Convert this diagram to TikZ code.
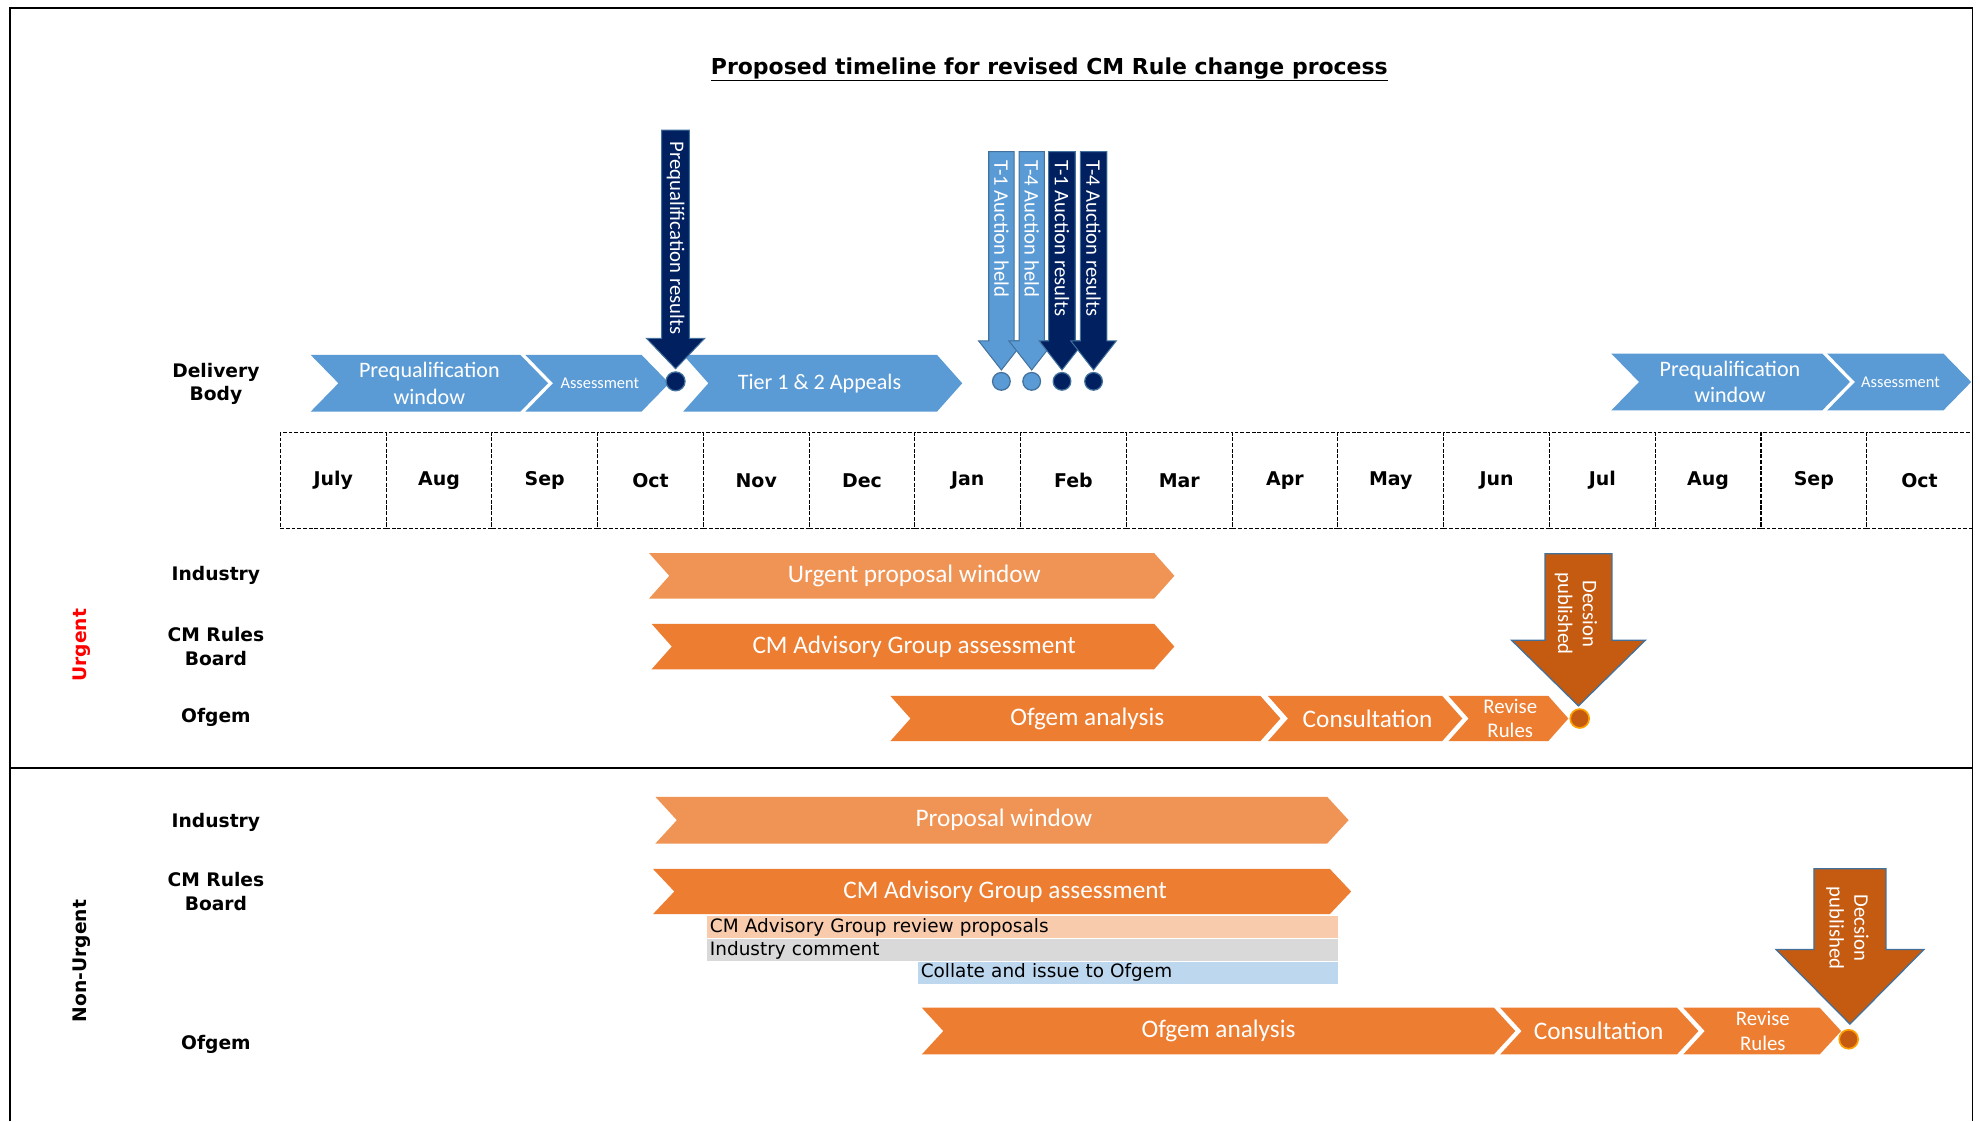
\documentclass[tikz,border=0pt]{standalone}
\usepackage{fontspec}
\setmainfont{DejaVu Sans}
\newfontfamily\calib{Carlito}
\definecolor{cblue}{HTML}{5B9BD5}
\definecolor{cnavy}{HTML}{002060}
\definecolor{corange}{HTML}{ED7D31}
\definecolor{clorange}{HTML}{F09456}
\definecolor{cdorange}{HTML}{C55A11}
\definecolor{coutline}{HTML}{41719C}
\definecolor{cpeach}{HTML}{F8CBAD}
\definecolor{cgray}{HTML}{D9D9D9}
\definecolor{clblue}{HTML}{BDD7EE}
\definecolor{cgold}{HTML}{FFA000}
\tikzset{
  chevtext/.style={text=white, align=center, inner sep=0pt},
  bchev/.style={fill=cblue, font=\calib\fontsize{17.5}{21}\selectfont},
  bchevs/.style={fill=cblue, font=\calib\fontsize{13}{15}\selectfont},
  ochev/.style={fill=corange, font=\calib\fontsize{20}{24}\selectfont},
  lochev/.style={fill=clorange, font=\calib\fontsize{20}{24}\selectfont},
  ochevs/.style={fill=corange, font=\calib\fontsize{16.5}{19.5}\selectfont},
  rowlabel/.style={font=\bfseries\fontsize{14.8}{18.5}\selectfont, align=center, inner sep=0pt},
  monthbox/.style={draw, dash pattern=on 3pt off 1.5pt, line width=0.9pt, minimum width=83.75pt, minimum height=76pt, inner sep=0pt, font=\bfseries\fontsize{15}{17}\selectfont},
  rottext/.style={rotate=-90, text=white, font=\calib\fontsize{16.4}{19.5}\selectfont, inner sep=0pt, align=center},
  dot/.style={circle, minimum size=15pt, inner sep=0pt, line width=1pt},
  barbox/.style={anchor=north west, inner xsep=2pt, inner ysep=0pt, minimum height=17.5pt, align=left, font=\fontsize{14.6}{16}\selectfont},
  frame/.style={line width=1.5pt},
}
% name, L, R, T, B, notch, style, text x, text
\newcommand\mychev[9]{%
  \fill[#7] (#2,#4) -- ({#3-#6},#4) -- (#3,{(#4+#5)/2}) -- ({#3-#6},#5) -- (#2,#5) -- ({#2+#6},{(#4+#5)/2}) -- cycle;
  \node[chevtext,#7,fill=none] (#1) at (#8,{(#4+#5)/2}) {#9};
}
% cx, half shaft, top, shaft bottom, half head, tip, fill, draw, line width
\newcommand\mydown[9]{%
  \filldraw[fill=#7, draw=#8, line width=#9] ({#1-#2},#3) -- ({#1+#2},#3) -- ({#1+#2},#4) -- ({#1+#5},#4) -- (#1,#6) -- ({#1-#5},#4) -- ({#1-#2},#4) -- cycle;
}
\begin{document}
\begin{tikzpicture}[x=1pt,y=-1pt]
\useasboundingbox (0,0) rectangle (1568,888);
\fill[white] (0,0) rectangle (1568,888);
% frame
\draw[frame] (8,888) -- (8,6) -- (1562,6) -- (1562,888);
\draw[line width=1.8pt] (8,608) -- (1562,608);
% title
\node[font=\bfseries\fontsize{17.4}{20}\selectfont, inner sep=0pt] (title) at (831,55) {\underline{Proposed timeline for revised CM Rule change process}};
% row labels
\node[rowlabel] (lDB) at (171,304) {Delivery\\Body};
\node[rowlabel] (lInd1) at (171,456) {Industry};
\node[rowlabel] (lCM1) at (171,512) {CM Rules\\Board};
\node[rowlabel] (lOf1) at (171,568) {Ofgem};
\node[rowlabel] (lInd2) at (171,651) {Industry};
\node[rowlabel] (lCM2) at (171,706) {CM Rules\\Board};
\node[rowlabel] (lOf2) at (171,827) {Ofgem};
\node[rowlabel, rotate=90, text=red] (lUrg) at (65,511) {Urgent};
\node[rowlabel, rotate=90] (lNonUrg) at (65,761) {Non-Urgent};
% months
\foreach \m [count=\i from 0] in {July,Aug,Sep,Oct,Nov,Dec,Jan,Feb,Mar,Apr,May,Jun,Jul,Aug,Sep,Oct}{
  \node[monthbox] (m\i) at ({222+83.75*\i+41.875},380.5) {\m};
}
% delivery body chevrons
\mychev{pq1}{246}{434}{281}{326}{22}{bchev}{340}{Prequalification\\window}
\mychev{as1}{416}{530}{281}{326}{22}{bchevs}{475}{Assessment}
\mychev{tier}{541}{762}{281}{326}{20}{bchev}{649}{Tier 1 \& 2 Appeals}
\mychev{pq2}{1276}{1465}{280}{325}{22}{bchev}{1370}{Prequalification\\window}
\mychev{as2}{1447}{1561}{280}{325}{22}{bchevs}{1505}{Assessment}
% prequalification results arrow
\mydown{535}{11}{103}{268}{23}{292}{cnavy}{coutline}{0.8pt}
\node[rottext, anchor=west] (pqr) at (535,112) {Prequalification results};
\node[dot, fill=cnavy, draw=coutline] (dpq) at (535,302) {};
% auction arrows
\mydown{793}{10}{120}{270}{18}{293}{cblue}{coutline}{0.8pt}
\node[rottext, anchor=west] (a1) at (793,127) {T-1 Auction held};
\mydown{817}{10}{120}{270}{18}{293}{cblue}{coutline}{0.8pt}
\node[rottext, anchor=west] (a2) at (817,127) {T-4 Auction held};
\mydown{841}{10.5}{120}{270}{18}{293}{cnavy}{coutline}{0.8pt}
\node[rottext, anchor=west] (a3) at (841,127) {T-1 Auction results};
\mydown{866}{10.5}{120}{270}{18}{293}{cnavy}{coutline}{0.8pt}
\node[rottext, anchor=west] (a4) at (866,127) {T-4 Auction results};
\node[dot, minimum size=14pt, fill=cblue, draw=coutline] (d1) at (793,302) {};
\node[dot, minimum size=14pt, fill=cblue, draw=coutline] (d2) at (817,302) {};
\node[dot, minimum size=14pt, fill=cnavy, draw=coutline] (d3) at (841,302) {};
\node[dot, minimum size=14pt, fill=cnavy, draw=coutline] (d4) at (866,302) {};
% urgent
\mychev{upw}{514}{930}{438}{474}{16}{lochev}{724}{Urgent proposal window}
\mychev{ucm}{516}{930}{494}{530}{16}{ochev}{724}{CM Advisory Group assessment}
\mychev{uoa}{705}{1014}{551}{587}{16}{ochev}{861}{Ofgem analysis}
\mychev{uco}{1004}{1158}{551}{587}{16}{ochev}{1083}{Consultation}
\mychev{urr}{1147}{1242}{551}{587}{16}{ochevs}{1196}{Revise\\Rules}
\mydown{1250}{26.5}{438.5}{507}{53}{559}{cdorange}{coutline}{1pt}
\node[rottext] (udp) at (1248,486) {Decsion\\published};
\node[dot, fill=cdorange, draw=cgold, line width=1.3pt] (udot) at (1251,569) {};
% non-urgent
\mychev{npw}{519}{1068}{631}{668}{17}{lochev}{795}{Proposal window}
\mychev{ncm}{517}{1070}{688}{724}{17}{ochev}{796}{CM Advisory Group assessment}
\node[barbox, fill=cpeach, text width=495pt] (b1) at (560,725.5) {CM Advisory Group review proposals};
\node[barbox, fill=cgray, text width=495pt] (b2) at (560,743.5) {Industry comment};
\node[barbox, fill=clblue, text width=328pt] (b3) at (727,761.5) {Collate and issue to Ofgem};
\mychev{noa}{730}{1200}{798}{835}{17}{ochev}{965}{Ofgem analysis}
\mychev{nco}{1188}{1345}{798}{835}{17}{ochev}{1266}{Consultation}
\mychev{nrr}{1333}{1458}{798}{835}{17}{ochevs}{1396}{Revise\\Rules}
\mydown{1465}{28.5}{688}{752}{58.5}{811}{cdorange}{coutline}{1pt}
\node[rottext] (ndp) at (1463,735) {Decsion\\published};
\node[dot, fill=cdorange, draw=cgold, line width=1.3pt] (ndot) at (1464,823) {};
\end{tikzpicture}
\end{document}
